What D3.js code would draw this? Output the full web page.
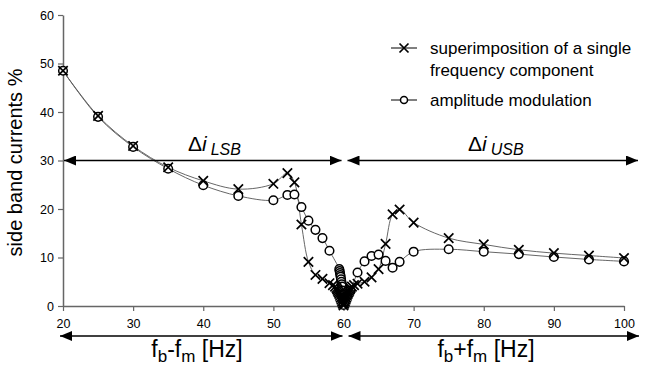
<!DOCTYPE html>
<html>
<head>
<meta charset="utf-8">
<script src="https://cdn.jsdelivr.net/npm/d3@7"></script>
<style>
  body { margin: 0; background: #fff; }
  svg { font-family: Arial, "Liberation Sans", sans-serif; }
</style>
</head>
<body>
<div class="chart"></div>
<script>
var width = 649,
    height = 367;

// superimposition of a single frequency component
var fSup = [20, 25, 30, 35, 40, 45, 50, 52, 53, 54, 55, 56, 57, 58,
  58.5, 58.8, 59, 59.1, 59.2, 59.3, 59.4, 59.5, 59.6, 59.7, 59.8, 59.9, 60,
  60.1, 60.2, 60.3, 60.4, 60.5, 60.6, 60.7, 60.8, 60.9, 61, 61.2, 61.5,
  62, 63, 64, 65, 66, 67, 68, 70, 75, 80, 85, 90, 95, 100];
var vSup = [48.5, 39.2, 33.0, 28.6, 25.8, 24.1, 25.2, 27.4, 25.5, 16.8, 9.1, 6.4, 5.6, 4.7,
  4.3, 4.0, 3.7, 3.4, 3.1, 2.8, 2.5, 2.1, 1.7, 1.3, 0.9, 0.5, 0.1,
  0.5, 0.9, 1.3, 1.7, 2.1, 2.5, 2.8, 3.1, 3.4, 3.7, 4.0, 4.3,
  4.6, 5.0, 5.9, 7.6, 12.8, 18.9, 19.9, 17.2, 14.0, 12.7, 11.6, 10.9, 10.4, 9.9];

// amplitude modulation
var fAM = [20, 25, 30, 35, 40, 45, 50, 52, 53, 54, 55, 56, 57, 58,
  59.4, 59.45, 59.5, 59.55, 59.6, 59.65, 59.7, 59.75, 59.8, 59.85, 59.9, 59.95, 60,
  60.2, 60.5, 61, 62, 63, 64, 65, 66, 67, 68, 70, 75, 80, 85, 90, 95, 100];
var vAM = [48.5, 39.0, 32.8, 28.3, 24.9, 22.7, 21.8, 22.9, 23.0, 20.4, 17.6, 15.7, 14.0, 11.4,
  7.6, 7.2, 6.8, 6.4, 6.0, 5.5, 5.0, 4.5, 4.0, 3.2, 2.4, 1.2, 0.2,
  1.0, 2.0, 3.2, 6.9, 9.2, 10.3, 10.6, 9.3, 7.9, 9.1, 11.2, 11.7, 11.2, 10.7, 10.1, 9.6, 9.2];

var xTicks = [20, 30, 40, 50, 60, 70, 80, 90, 100];
var yTicks = [0, 10, 20, 30, 40, 50, 60];

var svg = d3.select(".chart").append("svg")
    .attr("width", width)
    .attr("height", height);

var defs = svg.append("defs");
defs.append("marker")
    .attr("id", "head")
    .attr("viewBox", "0 0 12 10")
    .attr("refX", 12).attr("refY", 5)
    .attr("markerWidth", 12).attr("markerHeight", 10)
    .attr("markerUnits", "userSpaceOnUse")
    .attr("orient", "auto-start-reverse")
  .append("path")
    .attr("d", "M0,0L12,5L0,10Z")
    .attr("fill", "#000");

var x = d3.scaleLinear().domain([20, 100]).range([63, 624]);
var y = d3.scaleLinear().domain([0, 60]).range([306, 15]);

// axes
var xAxis = svg.append("g")
    .attr("transform", "translate(0," + y(0) + ")")
    .call(d3.axisBottom(x).tickValues(xTicks).tickSize(5).tickSizeOuter(0));
var yAxis = svg.append("g")
    .attr("transform", "translate(" + x(20) + ",0)")
    .call(d3.axisLeft(y).tickValues(yTicks).tickSize(5).tickSizeOuter(0));
[xAxis, yAxis].forEach(function(a) {
  a.select(".domain").attr("stroke", "#666").attr("stroke-width", 1.5);
  a.selectAll(".tick line").attr("stroke", "#666").attr("stroke-width", 1.2);
  a.selectAll(".tick text").attr("fill", "#000").style("font-size", "12.5px")
    .style("font-family", "Arial, 'Liberation Sans', sans-serif");
});
xAxis.selectAll(".tick text").attr("dy", "1.15em");
yAxis.selectAll(".tick text").attr("x", -9);

svg.append("text")
    .attr("transform", "translate(22," + (y(30) + 2) + ") rotate(-90)")
    .attr("text-anchor", "middle")
    .style("font-size", "20px")
    .text("side band currents %");

// series lines
var series = [
  { f: fSup, v: vSup, kind: "cross" },
  { f: fAM, v: vAM, kind: "circle" }
];

var line = d3.line()
    .x(function(d) { return x(d[0]); })
    .y(function(d) { return y(d[1]); })
    .curve(d3.curveCatmullRom.alpha(0.5));

series.forEach(function(s) {
  s.pts = s.f.map(function(f, i) { return [f, s.v[i]]; });
  svg.append("path")
      .datum(s.pts)
      .attr("d", line)
      .attr("fill", "none")
      .attr("stroke", "#555")
      .attr("stroke-width", 0.9);
});

function cross(g, cx, cy, r) {
  g.append("path")
      .attr("d", "M" + (cx - r) + "," + (cy - r) + "L" + (cx + r) + "," + (cy + r) +
                 "M" + (cx - r) + "," + (cy + r) + "L" + (cx + r) + "," + (cy - r))
      .attr("stroke", "#000")
      .attr("stroke-width", 1.7)
      .attr("fill", "none");
}

var amG = svg.append("g");
amG.selectAll("circle")
    .data(series[1].pts)
    .enter().append("circle")
    .attr("cx", function(d) { return x(d[0]); })
    .attr("cy", function(d) { return y(d[1]); })
    .attr("r", 4.3)
    .attr("fill", "#fff")
    .attr("stroke", "#000")
    .attr("stroke-width", 1.5);

var supG = svg.append("g");
series[0].pts.forEach(function(d) { cross(supG, x(d[0]), y(d[1]), 4.7); });

// delta i arrows
function arrow(x1, x2, yy) {
  svg.append("line")
      .attr("x1", x1).attr("x2", x2)
      .attr("y1", yy).attr("y2", yy)
      .attr("stroke", "#000")
      .attr("stroke-width", 1.5)
      .attr("marker-start", "url(#head)")
      .attr("marker-end", "url(#head)");
}
arrow(x(20) + 1, x(60) - 2, y(30));
arrow(x(60) + 4, 638, y(30));
arrow(60, x(60) - 1, 336);
arrow(x(60) + 5, 639, 336);

function deltaLabel(xx, yy, sub) {
  var t = svg.append("text").attr("x", xx).attr("y", yy).style("font-size", "21px");
  t.append("tspan").text("\u0394");
  t.append("tspan").style("font-style", "italic").text("i");
  t.append("tspan").attr("dx", 4).attr("dy", 4).style("font-style", "italic")
    .style("font-size", "16px").text(sub);
}
deltaLabel(188, 151, "LSB");
deltaLabel(468, 151, "USB");

function freqLabel(cx, sign) {
  var t = svg.append("text").attr("x", cx).attr("y", 357)
      .attr("text-anchor", "middle").style("font-size", "23px");
  t.append("tspan").text("f");
  t.append("tspan").attr("dy", 5).style("font-size", "17px").text("b");
  t.append("tspan").attr("dy", -5).text(sign + "f");
  t.append("tspan").attr("dy", 5).style("font-size", "17px").text("m");
  t.append("tspan").attr("dy", -5).text(" [Hz]");
}
freqLabel(197, "-");
freqLabel(486, "+");

// legend
var lg = svg.append("g");
lg.append("line").attr("x1", 391).attr("x2", 417).attr("y1", 48).attr("y2", 48)
    .attr("stroke", "#000").attr("stroke-width", 1);
cross(lg, 404, 48, 4.5);
lg.append("line").attr("x1", 391).attr("x2", 417).attr("y1", 100).attr("y2", 100)
    .attr("stroke", "#000").attr("stroke-width", 1);
lg.append("circle").attr("cx", 404).attr("cy", 100).attr("r", 3.5)
    .attr("fill", "#fff").attr("stroke", "#000").attr("stroke-width", 1.5);
lg.append("text").attr("x", 430).attr("y", 54).style("font-size", "17px")
    .text("superimposition of a single");
lg.append("text").attr("x", 430).attr("y", 76).style("font-size", "17px")
    .text("frequency component");
lg.append("text").attr("x", 430).attr("y", 106).style("font-size", "17px")
    .text("amplitude modulation");
</script>
</body>
</html>
